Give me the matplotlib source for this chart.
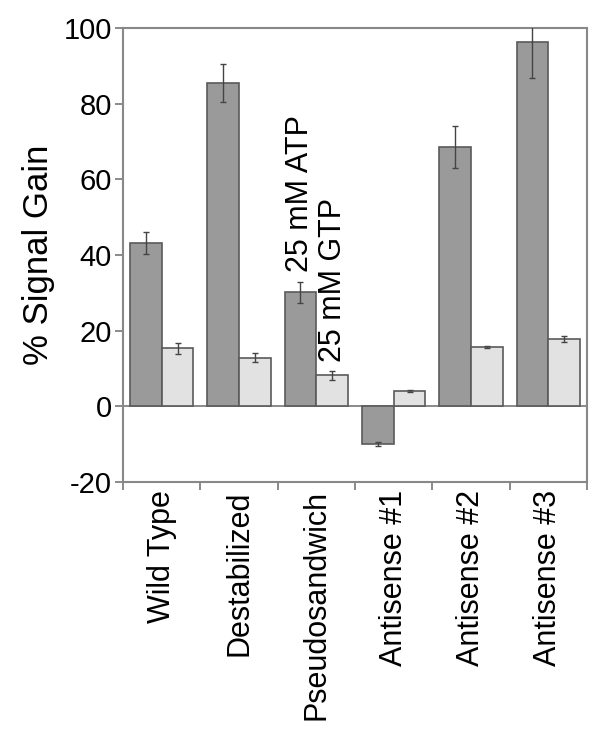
import matplotlib.pyplot as plt
import numpy as np

plt.rcParams['font.family'] = ['Liberation Sans', 'DejaVu Sans']
plt.rcParams['axes.unicode_minus'] = False

# Data
categories = ['Wild Type', 'Destabilized', 'Pseudosandwich',
              'Antisense #1', 'Antisense #2', 'Antisense #3']
atp = [43.2, 85.5, 30.1, -10.0, 68.6, 96.3]
atp_err = [3.0, 5.0, 2.8, 0.5, 5.5, 9.5]
gtp = [15.3, 12.9, 8.2, 4.0, 15.6, 17.9]
gtp_err = [1.4, 1.2, 1.2, 0.2, 0.3, 0.8]

fig = plt.figure(figsize=(6.01, 7.31), dpi=100)
ax = fig.add_axes([0.2047, 0.3406, 0.7720, 0.6211])

x = np.arange(len(categories))
w = 0.41
ax.bar(x - w / 2, atp, w, color='#9a9a9a', edgecolor='#5a5a5a', linewidth=1.2, zorder=2)
ax.bar(x + w / 2, gtp, w, color='#e2e2e2', edgecolor='#5a5a5a', linewidth=1.2, zorder=2)
ax.errorbar(x - w / 2, atp, yerr=atp_err, fmt='none', ecolor='#444444',
            elinewidth=1, capsize=2.5, capthick=1, zorder=3)
ax.errorbar(x + w / 2, gtp, yerr=gtp_err, fmt='none', ecolor='#444444',
            elinewidth=1, capsize=2.5, capthick=1, zorder=3)

ax.axhline(0, color='#777777', linewidth=1.2, zorder=1)

ax.set_xlim(-0.5, len(categories) - 0.5)
ax.set_ylim(-20, 100)
ax.set_yticks([-20, 0, 20, 40, 60, 80, 100])
ax.set_ylabel('% Signal Gain', fontsize=25, labelpad=6)

ax.set_xticks(x)
ax.set_xticklabels(categories, rotation=90, fontsize=22)
ax.tick_params(axis='x', length=0, pad=6)
ax.set_xticks(np.arange(len(categories) + 1) - 0.5, minor=True)
ax.tick_params(axis='x', which='minor', length=6, width=1.2, color='#777777')
ax.tick_params(axis='y', labelsize=21, length=6, width=1.2, color='#777777', pad=2)

for s in ax.spines.values():
    s.set_color('#888888')
    s.set_linewidth(1.5)

ax.text(1.79, 35.4, '25 mM ATP', rotation=90, fontsize=22, ha='center', va='bottom')
ax.text(2.22, 11.6, '25 mM GTP', rotation=90, fontsize=22, ha='center', va='bottom')

fig.savefig('out.png', dpi=100)
